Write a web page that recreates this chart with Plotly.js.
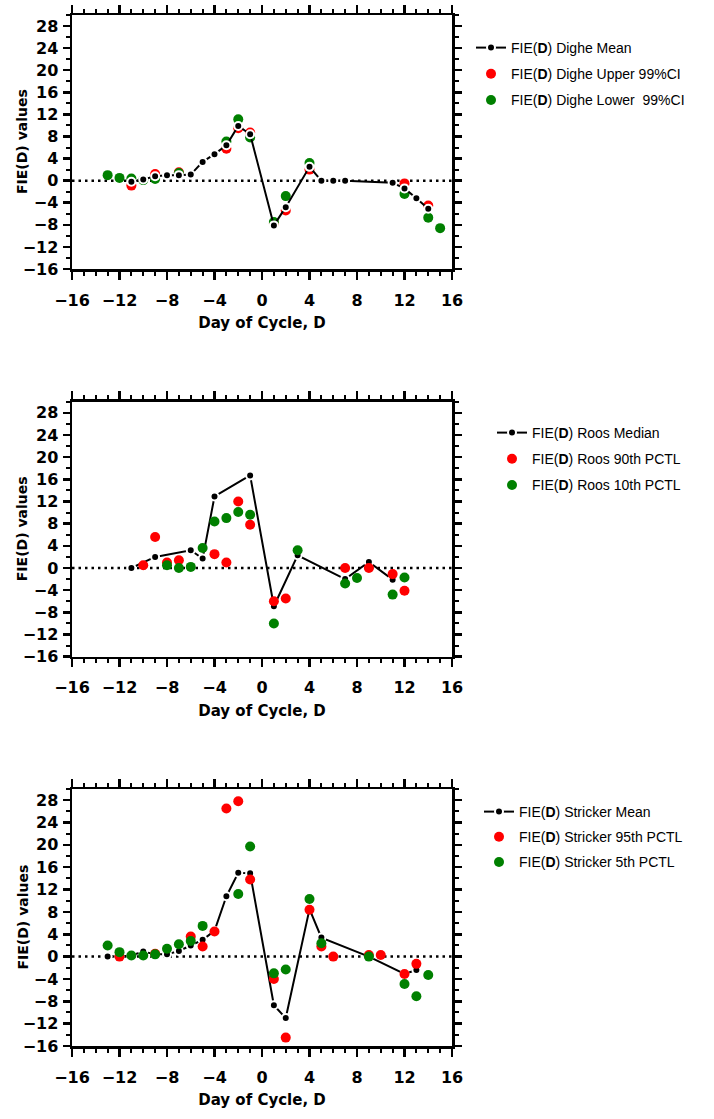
<!DOCTYPE html>
<html><head><meta charset="utf-8">
<script src="https://cdn.plot.ly/plotly-3.0.1.min.js"></script>
<style>html,body{margin:0;padding:0;background:#fff}</style>
</head><body><div id="chart" style="width:714px;height:1119px"></div>
<script>
// ---------- Data ----------
// Panel 1: Dighe
const digheMeanX  = [-11,-10,-9,-8,-7,-6,-5,-4,-3,-2,-1,1,2,4,5,6,7,11,12,13,14];
const digheMeanY  = [-0.2,0.2,0.8,1.0,1.0,1.1,3.4,4.8,6.4,9.9,8.4,-8.1,-4.8,2.5,0,0,0,-0.4,-1.4,-3.2,-5.1];
const digheUpperX = [-11,-9,-7,-3,-2,-1,1,2,4,12,14];
const digheUpperY = [-0.9,1.2,1.5,5.8,9.5,8.7,-7.8,-5.4,2.0,-0.5,-4.5];
const digheLowerX = [-13,-12,-11,-10,-9,-7,-3,-2,-1,1,2,4,12,14,15];
const digheLowerY = [1.0,0.5,0.4,0.1,0.3,1.4,7.1,11.1,7.8,-7.5,-2.8,3.2,-2.4,-6.7,-8.6];
// Panel 2: Roos
const roosMedianX = [-11,-9,-6,-5,-4,-1,1,3,7,9,11];
const roosMedianY = [0,2.0,3.2,1.7,12.9,16.7,-6.9,2.3,-2.0,1.1,-2.1];
const roos90X     = [-10,-9,-8,-7,-4,-3,-2,-1,1,2,7,9,11,12];
const roos90Y     = [0.5,5.6,1.0,1.4,2.5,1.0,12.0,7.8,-6.0,-5.5,0,0,-1.1,-4.1];
const roos10X     = [-8,-7,-6,-5,-4,-3,-2,-1,1,3,7,8,11,12];
const roos10Y     = [0.5,0,0.2,3.6,8.4,9.0,10.1,9.6,-10.0,3.2,-2.8,-1.8,-4.8,-1.7];
// Panel 3: Stricker
const strickerMeanX = [-13,-12,-11,-10,-9,-8,-7,-6,-5,-4,-3,-2,-1,1,2,4,5,9,12,13];
const strickerMeanY = [0,0,0.2,0.9,0.4,0.4,1.0,2.0,3.0,4.6,10.8,15.0,14.9,-8.7,-11.0,8.5,3.4,0,-3.1,-2.4];
const stricker95X   = [-12,-9,-6,-5,-4,-3,-2,-1,1,2,4,5,6,9,10,12,13];
const stricker95Y   = [0,0.5,3.6,1.8,4.5,26.5,27.8,13.8,-4.0,-14.5,8.4,1.8,0,0.3,0.3,-3.1,-1.3];
const stricker5X    = [-13,-12,-11,-10,-9,-8,-7,-6,-5,-2,-1,1,2,4,5,9,12,13,14];
const stricker5Y    = [2.0,0.8,0.2,0.2,0.4,1.4,2.2,2.8,5.5,11.2,19.7,-3.0,-2.3,10.3,2.4,0,-4.9,-7.1,-3.3];

// Labels
const xTitle = 'Day of Cycle, D';
const yTitle = 'FIE(D) values';
const names1 = ['FIE(<b>D</b>) Dighe Mean','FIE(<b>D</b>) Dighe Upper 99%CI','FIE(<b>D</b>) Dighe Lower\u00a0 99%CI'];
const names2 = ['FIE(<b>D</b>) Roos Median','FIE(<b>D</b>) Roos 90th PCTL','FIE(<b>D</b>) Roos 10th PCTL'];
const names3 = ['FIE(<b>D</b>) Stricker Mean','FIE(<b>D</b>) Stricker 95th PCTL','FIE(<b>D</b>) Stricker 5th PCTL'];

// ---------- Styles ----------
const W = 714, H = 1119;
const RED = '#ff0000', GREEN = '#008000', BLACK = '#000000';
const xDom = [72/W, 452/W];
const yDoms = [[1-269/H, 1-15/H],[1-656.7/H, 1-401.7/H],[1-1046/H, 1-789/H]];
const tickFont = {family:'DejaVu Sans', size:16, color:BLACK, weight:'bold'};
const xTitleFont = {family:'DejaVu Sans', size:15, color:BLACK, weight:'bold'};
const yTitleFont = {family:'DejaVu Sans', size:14, color:BLACK, weight:'bold'};
const legFont = {family:'Liberation Sans', size:14, color:BLACK};

function xMain(anchor){
  return {domain:xDom, anchor:anchor, range:[-16,16], tickmode:'linear', tick0:-16, dtick:4,
    ticks:'outside', ticklen:8, tickwidth:2.5, tickcolor:BLACK, showline:true, linewidth:2.5, linecolor:BLACK,
    mirror:'allticks', showgrid:false, zeroline:false, tickfont:tickFont, ticklabelstandoff:7,
    minor:{ticks:'outside', ticklen:4, tickwidth:2, tickcolor:BLACK, tick0:-16, dtick:1, showgrid:false},
    title:{text:xTitle, font:xTitleFont, standoff:9}, fixedrange:true};
}
function yMain(dom, anchor){
  return {domain:dom, anchor:anchor, range:[-16,30], tickmode:'linear', tick0:-16, dtick:4,
    ticks:'outside', ticklen:7, tickwidth:2.5, tickcolor:BLACK, showline:true, linewidth:2.5, linecolor:BLACK,
    mirror:'allticks', showgrid:false, zeroline:false, tickfont:tickFont, ticklabelstandoff:1,
    minor:{ticks:'outside', ticklen:4, tickwidth:2, tickcolor:BLACK, tick0:-16, dtick:2, showgrid:false},
    fixedrange:true};
}

function meanTrace(x,y,name,xa,ya,leg,rank){
  return {type:'scatter', mode:'lines+markers', x:x, y:y, name:name, xaxis:xa, yaxis:ya, legend:leg,
    legendgroup:leg+'m', legendrank:rank, line:{color:BLACK, width:2},
    marker:{color:BLACK, size:8, line:{color:'#ffffff', width:2}}, hoverinfo:'skip'};
}
function dotTrace(x,y,name,color,xa,ya,leg,rank){
  return {type:'scatter', mode:'markers', x:x, y:y, name:name, xaxis:xa, yaxis:ya, legend:leg,
    legendgroup:leg+'g'+rank, legendrank:rank, marker:{color:color, size:10}, hoverinfo:'skip'};
}

const data = [
  // panel 1: mean drawn on top
  dotTrace(digheUpperX, digheUpperY, names1[1], RED, 'x','y','legend',2),
  dotTrace(digheLowerX, digheLowerY, names1[2], GREEN, 'x','y','legend',3),
  meanTrace(digheMeanX, digheMeanY, names1[0], 'x','y','legend',1),
  // panel 2
  meanTrace(roosMedianX, roosMedianY, names2[0], 'x2','y2','legend2',1),
  dotTrace(roos90X, roos90Y, names2[1], RED, 'x2','y2','legend2',2),
  dotTrace(roos10X, roos10Y, names2[2], GREEN, 'x2','y2','legend2',3),
  // panel 3
  meanTrace(strickerMeanX, strickerMeanY, names3[0], 'x3','y3','legend3',1),
  dotTrace(stricker95X, stricker95Y, names3[1], RED, 'x3','y3','legend3',2),
  dotTrace(stricker5X, stricker5Y, names3[2], GREEN, 'x3','y3','legend3',3)
];

function legendAt(xpx, ytop, gap){
  return {x:xpx/W, y:1-ytop/H, xanchor:'left', yanchor:'top', font:legFont, bgcolor:'rgba(0,0,0,0)',
    borderwidth:0, tracegroupgap:gap, traceorder:'grouped'};
}
function zeroLine(xa, ya){
  return {type:'line', xref:xa+' domain', x0:0, x1:1, yref:ya, y0:0, y1:0, layer:'below',
    line:{color:BLACK, width:2.5, dash:'2.5px,4px'}};
}
function yLabel(ya){
  return {text:yTitle, xref:'paper', x:22/W, yref:ya+' domain', y:0.5, textangle:-90, showarrow:false,
    xanchor:'center', yanchor:'middle', font:yTitleFont};
}

const layout = {
  width:W, height:H, margin:{l:0,r:0,t:0,b:0}, paper_bgcolor:'#fff', plot_bgcolor:'rgba(0,0,0,0)',
  showlegend:true, font:{family:'Liberation Sans', color:BLACK},
  xaxis:xMain('y'), yaxis:yMain(yDoms[0],'x'),
  xaxis2:xMain('y2'), yaxis2:yMain(yDoms[1],'x2'),
  xaxis3:xMain('y3'), yaxis3:yMain(yDoms[2],'x3'),
  legend:legendAt(471, 32, 5), legend2:legendAt(492, 417, 5), legend3:legendAt(479, 796, 4),
  shapes:[zeroLine('x','y'), zeroLine('x2','y2'), zeroLine('x3','y3')],
  annotations:[yLabel('y'), yLabel('y2'), yLabel('y3')]
};

Plotly.newPlot('chart', data, layout, {displayModeBar:false, staticPlot:true});
</script></body></html>
